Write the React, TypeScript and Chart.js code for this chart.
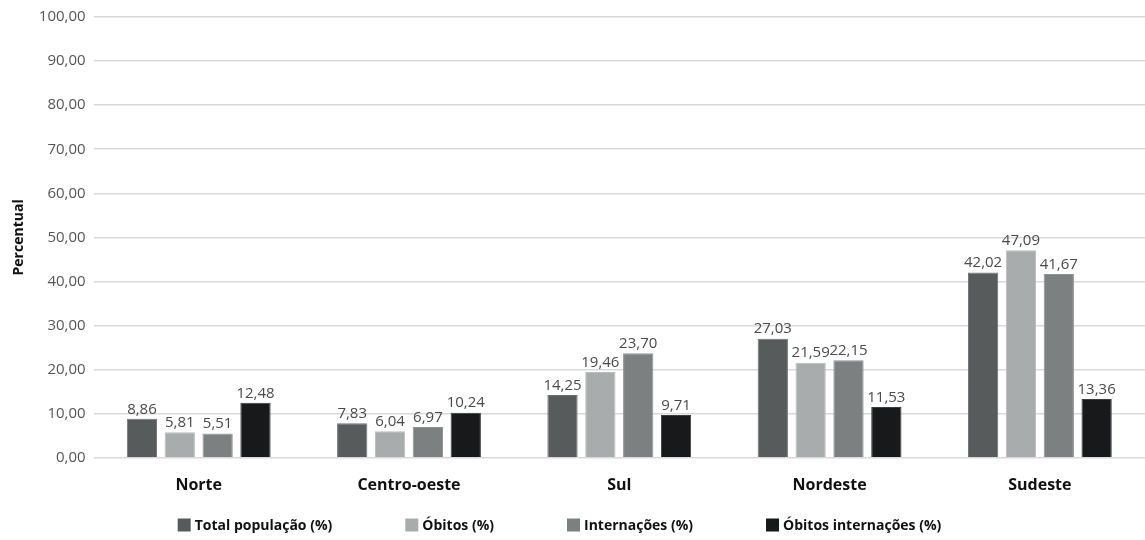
import React, { useEffect, useRef } from "react";
import { Chart, registerables } from "chart.js";

Chart.register(...registerables);

const regions = ["Norte", "Centro-oeste", "Sul", "Nordeste", "Sudeste"];
const totalPopulacao = [8.86, 7.83, 14.25, 27.03, 42.02];
const obitos = [5.81, 6.04, 19.46, 21.59, 47.09];
const internacoes = [5.51, 6.97, 23.7, 22.15, 41.67];
const obitosInternacoes = [12.48, 10.24, 9.71, 11.53, 13.36];

const seriesNames = [
  "Total população (%)",
  "Óbitos (%)",
  "Internações (%)",
  "Óbitos internações (%)",
];
const seriesColors = ["#575b5c", "#a9acad", "#7d8081", "#17191b"];
const seriesEdges = ["#6c7071", "#b9bcbd", "#8f9293", "#3a3d3f"];

const FONT = "'Open Sans', 'Noto Sans', sans-serif";

const fmt = (v: number) => v.toFixed(2).replace(".", ",");

// Writes each bar's value just above it
const valueLabels = {
  id: "valueLabels",
  afterDatasetsDraw(chart: any) {
    const { ctx } = chart;
    ctx.save();
    ctx.font = `15px ${FONT}`;
    ctx.fillStyle = "#4a4a4a";
    ctx.textAlign = "center";
    ctx.textBaseline = "bottom";
    chart.data.datasets.forEach((ds: any, i: number) => {
      const meta = chart.getDatasetMeta(i);
      meta.data.forEach((bar: any, j: number) => {
        ctx.fillText(fmt(ds.data[j]), bar.x, bar.y - 2);
      });
    });
    ctx.restore();
  },
};

// Bottom legend with wide gaps between entries
const wideLegend = {
  id: "wideLegend",
  afterDraw(chart: any) {
    const { ctx, width, height } = chart;
    const box = 13;
    const boxGap = 4;
    const itemGap = 73;
    const y = height - 15;
    ctx.save();
    ctx.font = `bold 14px ${FONT}`;
    ctx.textBaseline = "middle";
    const items = chart.data.datasets.map((ds: any) => ({
      text: ds.label,
      color: ds.backgroundColor,
      w: ctx.measureText(ds.label).width,
    }));
    const total =
      items.reduce((s: number, it: any) => s + box + boxGap + it.w, 0) +
      itemGap * (items.length - 1);
    let x = width / 2 - total / 2 - 13;
    items.forEach((it: any) => {
      ctx.fillStyle = it.color;
      ctx.fillRect(x, y - box / 2, box, box);
      x += box + boxGap;
      ctx.fillStyle = "#111";
      ctx.fillText(it.text, x, y + 1);
      x += it.w + itemGap;
    });
    ctx.restore();
  },
};

export default function App() {
  const canvasRef = useRef<HTMLCanvasElement | null>(null);

  useEffect(() => {
    if (!canvasRef.current) return;
    const data = [totalPopulacao, obitos, internacoes, obitosInternacoes];
    const chart = new Chart(canvasRef.current, {
      type: "bar",
      data: {
        labels: regions,
        datasets: data.map((d, i) => ({
          label: seriesNames[i],
          data: d,
          backgroundColor: seriesColors[i],
          borderColor: seriesEdges[i],
          borderWidth: 1,
          categoryPercentage: 0.72,
          barPercentage: 0.8,
        })),
      },
      options: {
        responsive: false,
        animation: false,
        maintainAspectRatio: false,
        layout: { padding: { top: 7, right: 0, left: 11, bottom: 35 } },
        plugins: {
          legend: { display: false },
          tooltip: { enabled: false },
        },
        scales: {
          x: {
            grid: { display: false },
            border: { display: false },
            ticks: {
              color: "#111",
              padding: 10,
              font: { family: FONT, size: 16, weight: "bold" },
            },
          },
          y: {
            min: 0,
            max: 100,
            ticks: {
              stepSize: 10,
              color: "#555",
              padding: 8,
              font: { family: FONT, size: 15 },
              callback: (v: any) => fmt(Number(v)),
            },
            grid: { color: "#d9d9d9", lineWidth: 1.5, drawTicks: false },
            border: { display: false },
            title: {
              display: true,
              text: "Percentual",
              color: "#111",
              padding: { top: 0, bottom: 3 },
              font: { family: FONT, size: 14, weight: "bold" },
            },
          },
        },
      },
      plugins: [valueLabels, wideLegend],
    });
    return () => chart.destroy();
  }, []);

  return (
    <div style={{ position: "absolute", left: 0, top: 0, width: 1145, height: 540, background: "#fff" }}>
      <canvas ref={canvasRef} width={1145} height={540} />
    </div>
  );
}
